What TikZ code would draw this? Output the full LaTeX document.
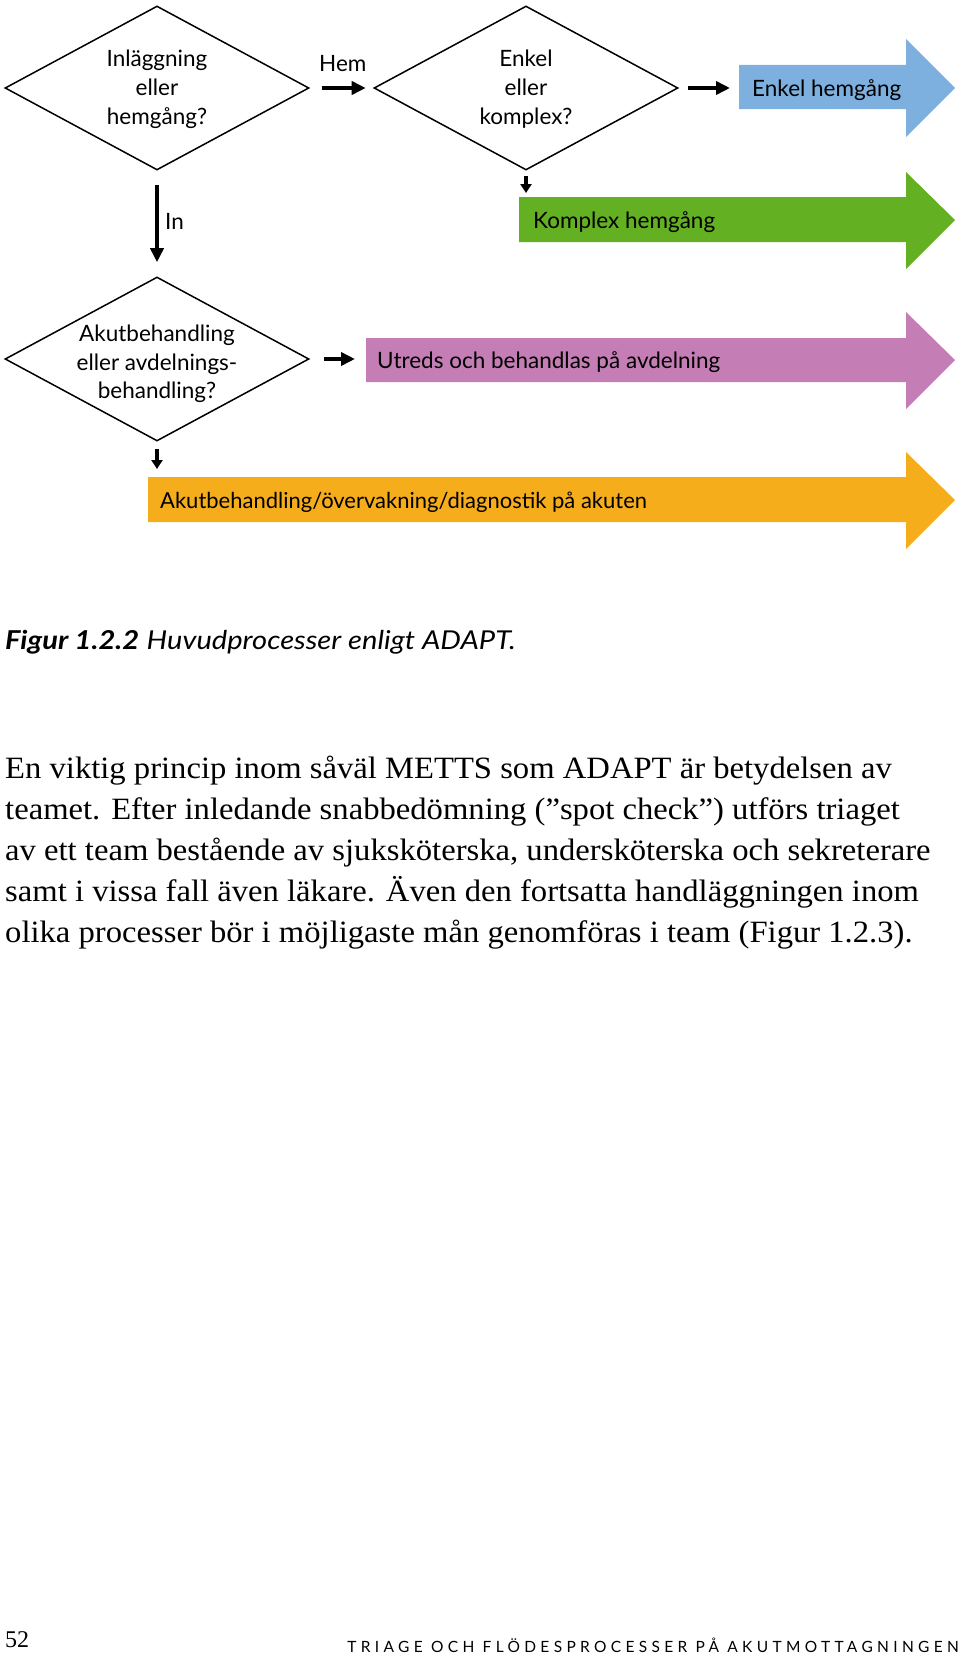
\documentclass[tikz,border=0pt]{standalone}
\usepackage{graphicx}
\usepackage{fontspec}
\setmainfont{Liberation Serif}
\newfontfamily\gill{Lato}
\newfontfamily\gillsp[LetterSpace=28]{Lato}
\usetikzlibrary{arrows.meta,shapes.geometric}
\definecolor{cblue}{HTML}{7DB0DF}
\definecolor{cgreen}{HTML}{63B022}
\definecolor{cpurple}{HTML}{C47DB5}
\definecolor{corange}{HTML}{F5AD1B}
\newcommand{\wideline}[1]{\scalebox{1.053}[1]{#1}}
\newcommand{\widecap}[1]{\scalebox{1.12}[1]{#1}}
\begin{document}
\begin{tikzpicture}[x=1pt,y=-1pt,
  dec/.style={diamond, draw, line width=1.5pt, minimum width=304pt, minimum height=164pt, inner sep=0pt},
  dtext/.style={font=\gill\fontsize{22.5}{29}\selectfont, align=center, inner sep=0pt},
  flow/.style={-{Triangle[length=14pt,width=13pt]}, line width=4.5pt},
  sflow/.style={-{Triangle[length=9pt,width=11pt]}, line width=3.5pt},
  lbl/.style={font=\gill\fontsize{22.5}{27}\selectfont, inner sep=0pt, anchor=base west},
  para/.style={font=\fontsize{31}{41}\selectfont, inner sep=0pt, anchor=base west}]
\useasboundingbox (0,0) rectangle (960,1662);

% block arrows
\fill[cblue] (739,65) -- (906,65) -- (906,39) -- (955,88) -- (906,137) -- (906,109) -- (739,109) -- cycle;
\fill[cgreen] (519,197) -- (906,197) -- (906,172) -- (955,220) -- (906,269) -- (906,242) -- (519,242) -- cycle;
\fill[cpurple] (366,338) -- (906,338) -- (906,312) -- (955,360) -- (906,409) -- (906,382) -- (366,382) -- cycle;
\fill[corange] (148,477) -- (906,477) -- (906,452) -- (955,500) -- (906,549) -- (906,522) -- (148,522) -- cycle;
\coordinate (blueL) at (739,88);
\coordinate (greenT) at (526,197);
\coordinate (purpleL) at (366,359);
\coordinate (orangeT) at (157,477);

\node[lbl] (tblue) at (752,96.5) {Enkel hemgång};
\node[lbl] (tgreen) at (533,228) {Komplex hemgång};
\node[lbl] (tpurple) at (377,368) {Utreds och behandlas på avdelning};
\node[lbl, font=\gill\fontsize{22}{27}\selectfont] (torange) at (160,508) {Akutbehandling/övervakning/diagnostik på akuten};

% decisions
\node[dec] (d1) at (157,88) {};
\node[dtext] (t1) at (157,89) {Inläggning\\eller\\hemgång?};
\node[dec] (d2) at (526,88) {};
\node[dtext] (t2) at (526,89) {Enkel\\eller\\komplex?};
\node[dec] (d3) at (157,359) {};
\node[dtext, font=\gill\fontsize{22.5}{28.5}\selectfont] (t3) at (157,364) {Akutbehandling\\eller avdelnings-\\behandling?};

% connectors
\draw[flow, shorten <=12pt, shorten >=7.5pt] (d1) -- (d2);
\node[lbl] (lhem) at (319,71) {Hem};
\draw[flow, shorten <=9pt, shorten >=9pt] (d2) -- (blueL);
\draw[flow, shorten <=14pt, shorten >=14pt] (d1) -- (d3);
\node[lbl] (lin) at (165,229) {In};
\draw[sflow, shorten <=5pt, shorten >=4pt] (d2) -- (greenT);
\draw[flow, shorten <=14pt, shorten >=11pt] (d3) -- (purpleL);
\draw[sflow, shorten <=7pt, shorten >=8pt] (d3) -- (orangeT);

% caption
\node[anchor=base west, inner sep=0pt, font=\gill\fontsize{26}{30}\selectfont] (cap) at (5,649)
  {\widecap{{\bfseries\itshape Figur 1.2.2} \itshape Huvudprocesser enligt ADAPT.}};

% paragraph
\node[para] (p1) at (5,778) {\wideline{En viktig princip inom såväl METTS som ADAPT är betydelsen av}};
\node[para] (p2) at (5,819) {\wideline{teamet. Efter inledande snabbedömning (”spot check”) utförs triaget}};
\node[para] (p3) at (5,860) {\wideline{av ett team bestående av sjuksköterska, undersköterska och sekreterare}};
\node[para] (p4) at (5,901) {\wideline{samt i vissa fall även läkare. Även den fortsatta handläggningen inom}};
\node[para] (p5) at (5,942) {\wideline{olika processer bör i möjligaste mån genomföras i team (Figur 1.2.3).}};

% footer
\node[anchor=base west, inner sep=0pt, font=\fontsize{24}{28}\selectfont] (pg) at (5,1647) {52};
\node[anchor=base east, inner sep=0pt, font=\gillsp\fontsize{15.5}{18}\selectfont] (run) at (959,1652)
  {TRIAGE OCH FLÖDESPROCESSER PÅ AKUTMOTTAGNINGEN};
\end{tikzpicture}
\end{document}
